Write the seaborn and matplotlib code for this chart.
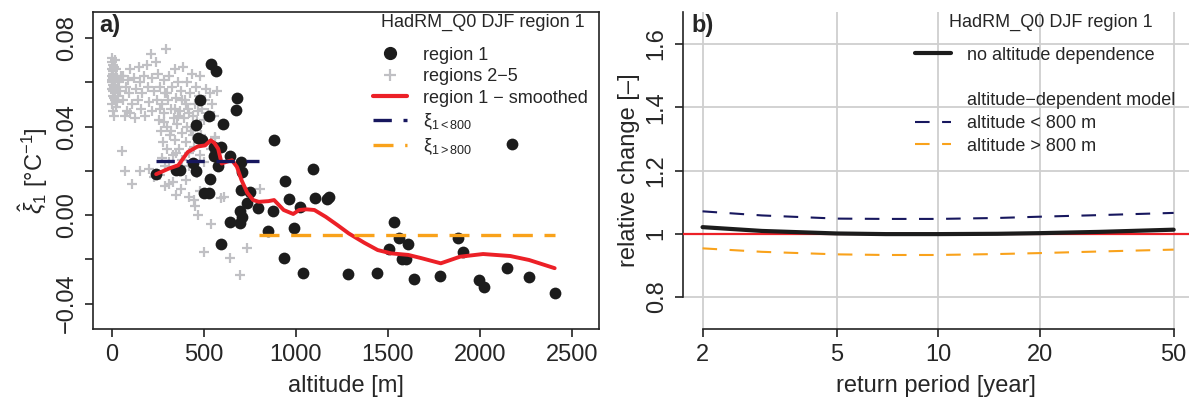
import numpy as np
import pandas as pd
import matplotlib
matplotlib.use("Agg")
import matplotlib.pyplot as plt
import seaborn as sns
from matplotlib.lines import Line2D

# ---------------- data: panel a ----------------
r1_alt = [240, 346, 371, 442, 458, 458, 481, 469, 490, 525, 540, 565, 531, 502, 527,
          552, 552, 575, 592, 604, 644, 675, 681, 702, 708, 700, 750, 735, 792, 694,
          708, 694, 642, 590, 881, 875, 850, 940, 960, 935, 990, 1023, 1040, 1094, 1102,
          1167, 1181, 1285, 1440, 1506, 1535, 1558, 1610, 1575, 1596, 1642, 1785, 1883,
          1910, 1996, 2023, 2148, 2267, 2406, 2175]
r1_xi = [0.0185, 0.0206, 0.0206, 0.0237, 0.0198, 0.0408, 0.0522, 0.0348, 0.0341, 0.0450,
         0.0683, 0.0650, 0.0165, 0.0102, 0.0098, 0.0308, 0.0266, 0.0222, 0.0308, 0.0413,
         0.0267, 0.0473, 0.0528, 0.0242, 0.0195, 0.0113, 0.0105, 0.0053, 0.0030, 0.0020,
         -0.0008, -0.0035, -0.0030, -0.0132, 0.0338, 0.0018, -0.0071, 0.0153, 0.0071, -0.0195,
         -0.0060, 0.0038, -0.0261, 0.0210, 0.0075, 0.0072, 0.0083, -0.0266, -0.0263, -0.0155,
         -0.0030, -0.0104, -0.0132, -0.0200, -0.0200, -0.0290, -0.0275, -0.0105, -0.0168,
         -0.0293, -0.0323, -0.0240, -0.0278, -0.0350, 0.0320]

oth_alt = [0, 2, 5, 0, 3, 8, 1, 6, 10, 2, 4, 12, 0, 7, 15, 3, 9, 18, 0, 20, 5, 12, 25, 30,
           22, 35, 28, 40, 45, 50, 15, 10, 6, 1, 14,
           60, 75, 85, 95, 100, 110, 120, 130, 140, 145, 150, 160, 165, 175, 180, 190, 195,
           200, 210, 215, 220, 230, 240, 245, 250, 60, 80, 100, 125, 70,
           255, 260, 265, 270, 275, 280, 285, 290, 295, 300, 300, 305, 310, 315, 320, 325,
           330, 335, 340, 345, 350, 355, 360, 365, 370, 375, 380, 385, 390, 395, 400, 405,
           410, 415, 420, 425, 430, 435, 440, 445, 450, 455, 460, 470, 475, 480, 485, 490,
           500, 505, 510, 520, 535, 545, 560, 570, 555, 280, 320, 360, 400, 300, 340, 380,
           420, 260, 440, 350, 310, 290, 270,
           54, 71, 110, 152, 200, 230, 260, 290, 308, 330, 350, 375, 400, 420, 444, 450,
           465, 480, 537, 502, 590, 610, 642, 694, 735, 804, 558, 540, 420, 380, 460, 500, 480]
oth_xi = [0.071, 0.069, 0.068, 0.066, 0.065, 0.064, 0.063, 0.062, 0.061, 0.060, 0.059, 0.058,
          0.057, 0.056, 0.055, 0.054, 0.053, 0.052, 0.050, 0.049, 0.047, 0.045, 0.062, 0.058,
          0.066, 0.054, 0.051, 0.060, 0.056, 0.063, 0.070, 0.067, 0.057, 0.061, 0.059,
          0.063, 0.058, 0.061, 0.055, 0.066, 0.050, 0.062, 0.057, 0.052, 0.067, 0.060, 0.048,
          0.055, 0.063, 0.045, 0.068, 0.058, 0.051, 0.073, 0.062, 0.047, 0.056, 0.069, 0.052,
          0.064, 0.052, 0.047, 0.046, 0.044, 0.045,
          0.043, 0.058, 0.038, 0.050, 0.033, 0.061, 0.046, 0.055, 0.075, 0.040, 0.030, 0.052,
          0.063, 0.036, 0.048, 0.058, 0.027, 0.044, 0.066, 0.034, 0.053, 0.041, 0.060, 0.030,
          0.047, 0.056, 0.037, 0.067, 0.044, 0.052, 0.033, 0.060, 0.040, 0.048, 0.028, 0.055,
          0.038, 0.064, 0.045, 0.031, 0.050, 0.058, 0.042, 0.047, 0.054, 0.063, 0.036, 0.048,
          0.043, 0.052, 0.057, 0.046, 0.055, 0.050, 0.035, 0.056, 0.045, 0.042, 0.038, 0.045,
          0.050, 0.055, 0.048, 0.052, 0.046, 0.048, 0.036, 0.028, 0.024, 0.022, 0.026,
          0.029, 0.020, 0.014, 0.020, 0.021, 0.017, 0.018, 0.013, 0.014, 0.015, 0.009, 0.012,
          0.016, 0.008, 0.007, 0.004, 0.000, 0.011, -0.004, -0.0165, 0.0075, 0.008, -0.0195,
          -0.027, -0.015, 0.0117, 0.0353, 0.030, 0.022, 0.025, 0.019, 0.024, 0.027]

smooth_alt = [240, 308, 360, 412, 465, 506, 537, 556, 577, 596, 619, 652, 679, 704, 735, 767,
              798, 850, 881, 933, 985, 1017, 1058, 1100, 1162, 1225, 1287, 1371, 1444, 1517,
              1610, 1683, 1787, 1892, 2017, 2165, 2267, 2406]
smooth_xi = [0.0185, 0.0210, 0.0225, 0.0285, 0.0310, 0.0315, 0.0338, 0.0326, 0.0300, 0.0233,
             0.0240, 0.0248, 0.0218, 0.0158, 0.0101, 0.0068, 0.0060, 0.0063, 0.0068, 0.0023,
             0.0005, 0.0023, 0.0026, 0.0023, -0.0008, -0.0045, -0.0083, -0.0125, -0.0158,
             -0.0173, -0.0180, -0.0195, -0.0218, -0.0188, -0.0176, -0.0185, -0.0203, -0.0240]

low_alt = [240, 800]
low_xi = [0.0246, 0.0246]
high_alt = [800, 2406]
high_xi = [-0.0092, -0.0092]

# ---------------- data: panel b ----------------
ret_period = [2, 3, 5, 7, 10, 15, 20, 30, 50]
rc_none = [1.021, 1.009, 1.001, 0.999, 0.999, 1.000, 1.002, 1.006, 1.013]
rc_low = [1.071, 1.058, 1.048, 1.047, 1.047, 1.050, 1.054, 1.059, 1.066]
rc_high = [0.954, 0.943, 0.935, 0.933, 0.933, 0.936, 0.939, 0.944, 0.950]

ytick_a = [-0.04, -0.02, 0.0, 0.02, 0.04, 0.06, 0.08]
ytick_a_lab = ["\u22120.04", "", "0.00", "", "0.04", "", "0.08"]
xtick_a = [0, 500, 1000, 1500, 2000, 2500]
ytick_b = [0.8, 1.0, 1.2, 1.4, 1.6]
ytick_b_lab = ["0.8", "1", "1.2", "1.4", "1.6"]
xtick_b = [2, 5, 10, 20, 50]
legend_title = "HadRM_Q0 DJF region 1"

# ---------------- style ----------------
sns.set_theme(style="ticks")
plt.rcParams["font.family"] = ["Liberation Sans", "DejaVu Sans"]
plt.rcParams["mathtext.fontset"] = "custom"
plt.rcParams["mathtext.rm"] = "Liberation Sans"
plt.rcParams["mathtext.it"] = "Liberation Sans:italic"
plt.rcParams["axes.unicode_minus"] = True

C_BLACK = "#1c1c1c"
C_GRAY = "#c0c0c4"
C_RED = "#ec2027"
C_NAVY = "#17175e"
C_ORANGE = "#f9a21b"
AX_COL = "#222222"

TICK_FS = 17
LAB_FS = 17
LEG_FS = 13

fig = plt.figure(figsize=(11.93, 4.07), dpi=100)
ax1 = fig.add_axes([0.078, 0.1916, 0.4241, 0.7789])
ax2 = fig.add_axes([0.5725, 0.1916, 0.4241, 0.7789])

# ---------------- panel a ----------------
df_oth = pd.DataFrame({"alt": oth_alt, "xi": oth_xi})
df_r1 = pd.DataFrame({"alt": r1_alt, "xi": r1_xi})

sns.scatterplot(data=df_oth, x="alt", y="xi", ax=ax1, marker="+", color=C_GRAY,
                s=60, linewidth=1.6, zorder=2)
sns.scatterplot(data=df_r1, x="alt", y="xi", ax=ax1, marker="o", color=C_BLACK,
                s=72, linewidth=0, zorder=3)
sns.lineplot(x=smooth_alt, y=smooth_xi, ax=ax1, color=C_RED, lw=2.8, zorder=4,
             sort=False, estimator=None)
sns.lineplot(x=low_alt, y=low_xi, ax=ax1, color=C_NAVY, lw=2.4, zorder=4,
             linestyle=(0, (5.5, 3.5)), estimator=None)
sns.lineplot(x=high_alt, y=high_xi, ax=ax1, color=C_ORANGE, lw=2.4, zorder=4,
             linestyle=(0, (6, 3.5)), estimator=None)

ax1.set_xlim(-103, 2647)
ax1.set_ylim(-0.0515, 0.0918)
ax1.set_xticks(xtick_a)
ax1.set_xticklabels([str(v) for v in xtick_a])
ax1.set_yticks(ytick_a)
ax1.set_yticklabels(ytick_a_lab, rotation=90, va="center")
ax1.set_xlabel("altitude [m]", fontsize=LAB_FS, labelpad=6)
ax1.set_ylabel(r"$\hat{\xi}_1$ [°C$^{-1}$]", fontsize=LAB_FS, labelpad=4)
for sp in ax1.spines.values():
    sp.set_linewidth(1.2)
    sp.set_color(AX_COL)
ax1.tick_params(axis="both", labelsize=TICK_FS, length=6, width=1.2, color=AX_COL,
                direction="out", pad=5)
ax1.text(0.012, 0.995, "a)", transform=ax1.transAxes, ha="left", va="top",
         fontsize=17, fontweight="bold")
ax1.text(0.771, 0.966, legend_title, transform=ax1.transAxes, ha="center",
         va="center", fontsize=LEG_FS)

h_a = [
    Line2D([], [], marker="o", color=C_BLACK, linestyle="none", markersize=8.5),
    Line2D([], [], marker="+", color=C_GRAY, linestyle="none", markersize=8, mew=1.6),
    Line2D([], [], color=C_RED, lw=3),
    Line2D([], [], color=C_NAVY, lw=2.4, linestyle=(0, (5.5, 3.5))),
    Line2D([], [], color=C_ORANGE, lw=2.4, linestyle=(0, (6, 3.5))),
]
l_a = ["region 1", "regions 2\u22125", "region 1 \u2212 smoothed",
       r"$\mathrm{\xi}_{1<800}$", r"$\mathrm{\xi}_{1>800}$"]
leg_a = ax1.legend(h_a, l_a, loc="upper right", bbox_to_anchor=(1.0, 0.925),
                   frameon=False, fontsize=LEG_FS,
                   handlelength=1.9, handletextpad=0.9,
                   labelspacing=0.25, borderaxespad=0.2)

# ---------------- panel b ----------------
ax2.set_xscale("log")
ax2.axhline(1.0, color=C_RED, lw=1.6, zorder=3)
sns.lineplot(x=ret_period, y=rc_none, ax=ax2, color=C_BLACK, lw=3.0, zorder=4,
             estimator=None)
sns.lineplot(x=ret_period, y=rc_low, ax=ax2, color=C_NAVY, lw=1.5, zorder=4,
             linestyle=(0, (7, 6)), estimator=None)
sns.lineplot(x=ret_period, y=rc_high, ax=ax2, color=C_ORANGE, lw=1.5, zorder=4,
             linestyle=(0, (7, 6)), estimator=None)

ax2.set_xlim(1.75, 55.5)
ax2.set_ylim(0.699, 1.701)
ax2.set_xticks(xtick_b)
ax2.set_xticklabels([str(v) for v in xtick_b])
ax2.xaxis.set_minor_locator(matplotlib.ticker.NullLocator())
ax2.set_yticks(ytick_b)
ax2.set_yticklabels(ytick_b_lab, rotation=90, va="center")
ax2.grid(True, which="major", color="#cfcfcf", lw=1.3, zorder=0)
ax2.set_axisbelow(True)
ax2.set_xlabel("return period [year]", fontsize=LAB_FS, labelpad=6)
ax2.set_ylabel("relative change [\u2013]", fontsize=LAB_FS, labelpad=4)
ax2.spines["top"].set_visible(False)
ax2.spines["right"].set_visible(False)
ax2.spines["left"].set_bounds(0.8, 1.701)
ax2.spines["bottom"].set_bounds(2, 50)
for k in ("left", "bottom"):
    ax2.spines[k].set_linewidth(1.2)
    ax2.spines[k].set_color(AX_COL)
ax2.tick_params(axis="both", labelsize=TICK_FS, length=6, width=1.2, color=AX_COL,
                direction="out", pad=5)
ax2.text(0.016, 0.995, "b)", transform=ax2.transAxes, ha="left", va="top",
         fontsize=17, fontweight="bold")
ax2.text(0.727, 0.966, legend_title, transform=ax2.transAxes, ha="center",
         va="center", fontsize=LEG_FS)

h_b = [
    Line2D([], [], color=C_BLACK, lw=3),
    Line2D([], [], color="none"),
    Line2D([], [], color="none"),
    Line2D([], [], color=C_NAVY, lw=1.5, linestyle=(0, (7, 6))),
    Line2D([], [], color=C_ORANGE, lw=1.5, linestyle=(0, (7, 6))),
]
l_b = ["no altitude dependence", " ", "altitude\u2212dependent model",
       "altitude < 800 m", "altitude > 800 m"]
leg_b = ax2.legend(h_b, l_b, loc="upper right", bbox_to_anchor=(0.995, 0.925),
                   frameon=False, fontsize=LEG_FS,
                   handlelength=2.0, handletextpad=0.9,
                   labelspacing=0.32, borderaxespad=0.2)

fig.savefig("out.png", dpi=100)
